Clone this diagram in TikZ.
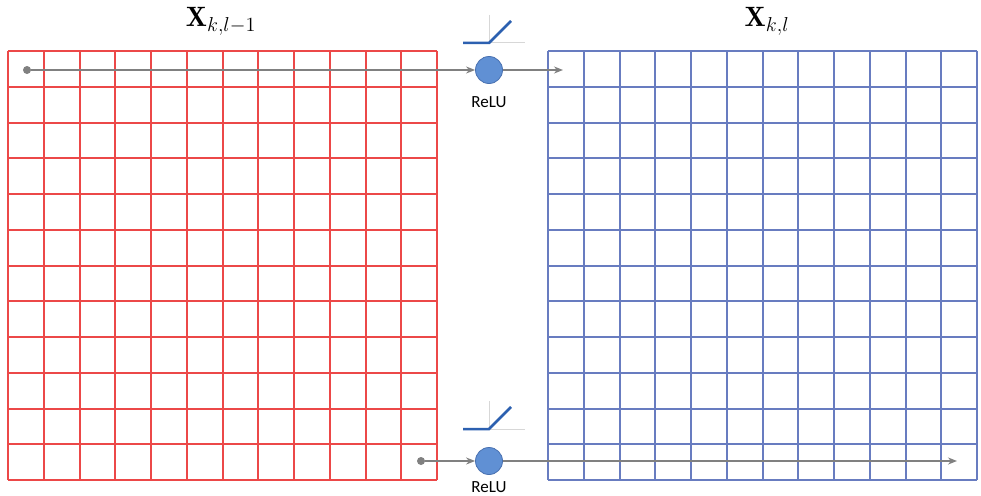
\documentclass[tikz,border=0pt]{standalone}
\usepackage{fontspec}
\newfontfamily\relufont{Carlito}
\usetikzlibrary{arrows.meta}
\definecolor{gridred}{RGB}{236,72,72}
\definecolor{gridblue}{RGB}{104,124,192}
\definecolor{arrgray}{RGB}{128,128,128}
\definecolor{relufill}{RGB}{96,144,212}
\definecolor{reluedge}{RGB}{72,112,176}
\definecolor{iconblue}{RGB}{44,96,176}
\definecolor{axisgray}{RGB}{215,215,215}
\begin{document}
\begin{tikzpicture}[x=1pt,y=-1pt,
  redgrid/.style={draw=gridred,line width=1.6pt},
  bluegrid/.style={draw=gridblue,line width=1.6pt},
  arr/.style={draw=arrgray,line width=2.2pt,-{Stealth[length=9pt,width=7pt]}},
  relu/.style={circle,fill=relufill,draw=reluedge,line width=0.8pt,minimum size=27pt,inner sep=0pt},
  srcdot/.style={circle,fill=arrgray,minimum size=8pt,inner sep=0pt},
  title/.style={font=\fontsize{20}{24}\selectfont,scale=1.4,anchor=base,inner sep=0pt},
  rlabel/.style={font=\relufont\fontsize{17}{20}\selectfont,anchor=base,inner sep=0pt},
  iconline/.style={draw=iconblue,line width=2.5pt},
  iconaxis/.style={draw=axisgray,line width=1pt}]
\useasboundingbox (0,0) rectangle (981,495);
\fill[white] (0,0) rectangle (981,495);
% grids (12 x 12 cells each)
\foreach \o in {0,36,72,107,143,179,215,250,286,322,358,393,429} {
  \draw[redgrid] ({8+\o},51) -- ({8+\o},480);
  \draw[redgrid] (8,{51+\o}) -- (437,{51+\o});
  \draw[bluegrid] ({548+\o},51) -- ({548+\o},480);
  \draw[bluegrid] (548,{51+\o}) -- (977,{51+\o});
}
% titles
\node[title] (tleft) at (221,27) {$\mathbf{X}_{k,l-1}$};
\node[title] (tright) at (767,27) {$\mathbf{X}_{k,l}$};
% ReLU icons
\foreach \dy in {0,386} {
  \begin{scope}[yshift=-\dy pt]
    \draw[iconaxis] (489,15) -- (489,43) -- (525,43);
    \draw[iconline] (463,43) -- (489,43) -- (511,21);
  \end{scope}
}
% top path
\node[srcdot] (d1) at (27,70) {};
\node[relu] (r1) at (489,70) {};
\coordinate (e1) at (563,70);
\node[rlabel] (l1) at (489,107) {ReLU};
\draw[arr] (d1) -- (r1);
\draw[arr] (r1) -- (e1);
% bottom path
\node[srcdot] (d2) at (421,461) {};
\node[relu] (r2) at (489,461) {};
\coordinate (e2) at (957,461);
\node[rlabel] (l2) at (489,492) {ReLU};
\draw[arr] (d2) -- (r2);
\draw[arr] (r2) -- (e2);
\end{tikzpicture}
\end{document}
